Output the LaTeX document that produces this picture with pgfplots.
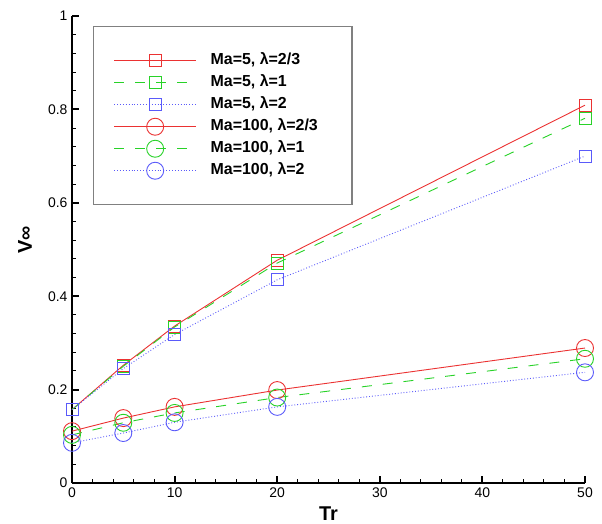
\documentclass[border=0pt]{standalone}
\usepackage{pgfplots}
\pgfplotsset{compat=1.18}
\usepackage{fontspec}
\setmainfont{Liberation Sans}

\definecolor{cred}{RGB}{235,50,50}
\definecolor{cgreen}{RGB}{40,210,40}
\definecolor{cblue}{RGB}{90,90,250}

\begin{document}
\begin{tikzpicture}
\begin{axis}[
    scale only axis,
    width=513bp, height=467bp,
    xmin=0, xmax=50, ymin=0, ymax=1,
    xtick={0,10,20,30,40,50},
    ytick={0,0.2,0.4,0.6,0.8,1},
    yticklabels={0,0.2,0.4,0.6,0.8,1},
    minor x tick num=4, minor y tick num=4,
    axis lines=left,
    axis line style={-, line width=2bp},
    tick align=inside,
    major tick length=7bp, minor tick length=4bp,
    every major tick/.style={line width=2bp, black},
    every minor tick/.style={line width=1bp, black},
    tick label style={font=\fontsize{14}{16}\selectfont},
    /pgf/number format/assume math mode=true,
    xticklabel style={yshift=-1bp},
    yticklabel style={xshift=-1bp},
    xlabel={\textbf{Tr}},
    ylabel={\textbf{V∞}},
    every axis x label/.style={font=\fontsize{20}{22}\selectfont, at={(axis description cs:0.5,0)}, anchor=center, yshift=-31bp},
    every axis y label/.style={font=\fontsize{20}{22}\selectfont, at={(axis description cs:-0.0916,0.52)}, anchor=center, rotate=90},
    clip=false,
    legend cell align=left,
    legend style={at={(0.0409,0.9786)}, anchor=north west,
        draw=gray, line width=1.5bp,
        inner xsep=20bp, inner ysep=23bp,
        row sep=0pt,
        nodes={font=\bfseries\fontsize{16}{18}\selectfont, inner ysep=3bp, inner xsep=14bp, text height=12bp, text depth=4bp}},
    legend image code/.code={\draw[mark repeat=2,mark phase=2,#1] plot coordinates {(0bp,0bp) (41bp,0bp) (82bp,0bp)};},
]
\addplot[color=cred, line width=0.9bp, mark=square, mark size=6bp, mark options={solid, draw=cred, fill=none}]
  coordinates {(0,0.157) (5,0.252) (10,0.336) (20,0.477) (50,0.809)};
\addlegendentry{Ma=5, λ=2/3}
\addplot[color=cgreen, line width=0.9bp, dash pattern=on 10bp off 11bp, mark=square, mark size=6bp, mark options={solid, draw=cgreen, fill=none}]
  coordinates {(0,0.157) (5,0.250) (10,0.334) (20,0.471) (50,0.781)};
\addlegendentry{Ma=5, λ=1}
\addplot[color=cblue, line width=0.9bp, dotted, mark=square, mark size=6bp, mark options={solid, draw=cblue, fill=none}]
  coordinates {(0,0.157) (5,0.245) (10,0.318) (20,0.435) (50,0.700)};
\addlegendentry{Ma=5, λ=2}
\addplot[color=cred, line width=0.9bp, mark=o, mark size=8.5bp, mark options={solid, draw=cred, fill=none}]
  coordinates {(0,0.111) (5,0.139) (10,0.163) (20,0.199) (50,0.289)};
\addlegendentry{Ma=100, λ=2/3}
\addplot[color=cgreen, line width=0.9bp, dash pattern=on 10bp off 11bp, mark=o, mark size=8.5bp, mark options={solid, draw=cgreen, fill=none}]
  coordinates {(0,0.103) (5,0.129) (10,0.150) (20,0.183) (50,0.266)};
\addlegendentry{Ma=100, λ=1}
\addplot[color=cblue, line width=0.9bp, dotted, mark=o, mark size=8.5bp, mark options={solid, draw=cblue, fill=none}]
  coordinates {(0,0.086) (5,0.107) (10,0.130) (20,0.163) (50,0.237)};
\addlegendentry{Ma=100, λ=2}
\coordinate (ll) at (rel axis cs:0,0);
\coordinate (ur) at (rel axis cs:1,1);
\end{axis}
\pgfresetboundingbox
\path ([shift={(-72bp,-41bp)}]ll) rectangle ([shift={(17bp,16bp)}]ur);
\end{tikzpicture}
\end{document}
